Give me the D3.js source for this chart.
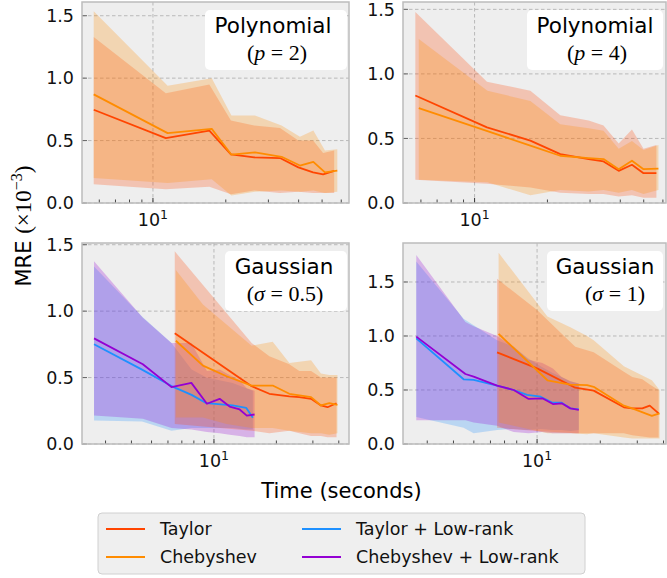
<!DOCTYPE html>
<html><head><meta charset="utf-8">
<script src="https://cdn.jsdelivr.net/npm/d3@7"></script>
<style>body{margin:0;background:#fff}svg{display:block}</style>
</head><body>
<script>
// ---------------- DATA ----------------
const seriesNames = ["Taylor", "Chebyshev", "Taylor + Low-rank", "Chebyshev + Low-rank"];
const seriesColors = ["#FF4500", "#FF8C00", "#1E90FF", "#9400D3"];
const yTicks = [0, 0.5, 1.0, 1.5];
const xMajorTicks = [10];

// Polynomial p=2
const tl_taylor_t  = [5.69, 11.3, 17.1, 21.0, 26.2, 33.5, 39.9, 45.9, 50.5, 56.1];
const tl_taylor_m  = [0.747, 0.52, 0.58, 0.39, 0.365, 0.36, 0.285, 0.245, 0.23, 0.258];
const tl_taylor_lo = [0.15, 0.11, 0.13, 0.07, 0.10, 0.08, 0.09, 0.08, 0.08, 0.08];
const tl_taylor_hi = [1.33, 0.88, 0.95, 0.66, 0.62, 0.60, 0.50, 0.50, 0.40, 0.42];
const tl_cheb_t  = [5.69, 11.5, 17.5, 21.1, 26.4, 34.0, 40.5, 46.0, 51.4, 57.8];
const tl_cheb_m  = [0.87, 0.56, 0.594, 0.387, 0.405, 0.37, 0.30, 0.33, 0.245, 0.26];
const tl_cheb_lo = [0.20, 0.16, 0.19, 0.06, 0.09, 0.10, 0.09, 0.10, 0.08, 0.09];
const tl_cheb_hi = [1.535, 0.94, 1.0, 0.70, 0.70, 0.62, 0.53, 0.58, 0.42, 0.43];

// Polynomial p=4
const tr_taylor_t  = [5.69, 11.25, 17.0, 22.6, 29.6, 34.1, 39.4, 44.7, 49.9, 56.4];
const tr_taylor_m  = [0.833, 0.586, 0.483, 0.379, 0.34, 0.322, 0.249, 0.296, 0.231, 0.231];
const tr_taylor_lo = [0.18, 0.15, 0.12, 0.08, 0.07, 0.07, 0.05, 0.06, 0.04, 0.04];
const tr_taylor_hi = [1.48, 0.94, 0.87, 0.68, 0.64, 0.60, 0.46, 0.57, 0.42, 0.45];
const tr_cheb_t  = [5.88, 11.3, 17.0, 22.6, 29.6, 34.1, 39.4, 44.7, 49.9, 57.5];
const tr_cheb_m  = [0.735, 0.557, 0.444, 0.366, 0.348, 0.34, 0.262, 0.327, 0.262, 0.267];
const tr_cheb_lo = [0.18, 0.16, 0.06, 0.10, 0.09, 0.10, 0.08, 0.10, 0.07, 0.10];
const tr_cheb_hi = [1.27, 0.87, 0.79, 0.61, 0.58, 0.56, 0.42, 0.48, 0.41, 0.45];

// Gaussian sigma=0.5
const bl_taylor_t  = [6.47, 15.2, 18.5, 23.1, 25.8, 29.4, 32.8, 35.3, 39.0];
const bl_taylor_m  = [0.833, 0.435, 0.378, 0.358, 0.353, 0.34, 0.29, 0.277, 0.307];
const bl_taylor_lo = [0.15, 0.10, 0.08, 0.10, 0.08, 0.06, 0.06, 0.05, 0.05];
const bl_taylor_hi = [1.45, 0.76, 0.66, 0.60, 0.55, 0.55, 0.50, 0.50, 0.50];
const bl_cheb_t  = [6.55, 8.85, 11.5, 15.2, 19.2, 23.1, 29.4, 32.8, 36.0, 39.4];
const bl_cheb_m  = [0.777, 0.59, 0.51, 0.44, 0.44, 0.378, 0.353, 0.29, 0.307, 0.295];
const bl_cheb_lo = [0.20, 0.20, 0.15, 0.12, 0.12, 0.10, 0.08, 0.08, 0.07, 0.08];
const bl_cheb_hi = [1.31, 1.05, 0.90, 0.74, 0.77, 0.61, 0.63, 0.53, 0.52, 0.52];
const bl_tlr_t  = [2.64, 4.5, 6.24, 7.8, 9.2, 12.3, 14.3, 15.4];
const bl_tlr_m  = [0.751, 0.56, 0.436, 0.37, 0.307, 0.29, 0.272, 0.197];
const bl_tlr_lo = [0.176, 0.17, 0.10, 0.12, 0.12, 0.12, 0.11, 0.11];
const bl_tlr_hi = [1.336, 0.96, 0.76, 0.56, 0.50, 0.46, 0.42, 0.40];
const bl_clr_t  = [2.64, 4.54, 6.24, 7.78, 9.25, 10.65, 11.9, 13.3, 14.4, 15.7];
const bl_clr_m  = [0.795, 0.60, 0.428, 0.46, 0.303, 0.34, 0.282, 0.26, 0.214, 0.222];
const bl_clr_lo = [0.214, 0.19, 0.12, 0.11, 0.09, 0.08, 0.07, 0.06, 0.05, 0.05];
const bl_clr_hi = [1.375, 0.95, 0.76, 0.76, 0.55, 0.56, 0.52, 0.48, 0.42, 0.40];

// Gaussian sigma=1
const br_taylor_t  = [6.45, 10.0, 15.2, 18.6, 25.9, 28.4, 31.7, 34.4, 37.9];
const br_taylor_m  = [0.849, 0.70, 0.521, 0.494, 0.34, 0.33, 0.33, 0.355, 0.284];
const br_taylor_lo = [0.15, 0.12, 0.10, 0.10, 0.10, 0.08, 0.07, 0.06, 0.06];
const br_taylor_hi = [1.53, 1.24, 0.90, 0.85, 0.67, 0.62, 0.60, 0.55, 0.50];
const br_cheb_t  = [6.56, 11.2, 14.4, 17.3, 18.6, 25.9, 28.4, 35.2, 38.3];
const br_cheb_m  = [1.02, 0.59, 0.55, 0.546, 0.53, 0.355, 0.33, 0.26, 0.284];
const br_cheb_lo = [0.20, 0.10, 0.10, 0.09, 0.10, 0.06, 0.05, 0.05, 0.05];
const br_cheb_hi = [1.77, 1.18, 1.08, 1.0, 0.96, 0.72, 0.68, 0.59, 0.50];
const br_tlr_t  = [2.66, 4.47, 4.99, 6.45, 7.74, 8.96, 10.4, 11.8, 13.1, 14.4, 15.8];
const br_tlr_m  = [0.978, 0.599, 0.593, 0.54, 0.50, 0.454, 0.438, 0.383, 0.383, 0.33, 0.32];
const br_tlr_lo = [0.25, 0.15, 0.10, 0.13, 0.14, 0.13, 0.14, 0.13, 0.13, 0.12, 0.13];
const br_tlr_hi = [1.69, 1.16, 1.10, 0.96, 0.90, 0.80, 0.72, 0.66, 0.62, 0.58, 0.56];
const br_clr_t  = [2.66, 4.56, 4.99, 6.45, 7.74, 9.12, 10.6, 11.9, 13.1, 14.4, 15.8];
const br_clr_m  = [0.994, 0.648, 0.623, 0.54, 0.50, 0.417, 0.423, 0.37, 0.377, 0.33, 0.315];
const br_clr_lo = [0.22, 0.22, 0.20, 0.17, 0.11, 0.10, 0.11, 0.10, 0.10, 0.10, 0.10];
const br_clr_hi = [1.75, 1.13, 1.09, 1.00, 0.90, 0.78, 0.75, 0.70, 0.62, 0.58, 0.56];

const panelTitles = ["Polynomial", "Polynomial", "Gaussian", "Gaussian"];
const panelParams = [["p", "2"], ["p", "4"], ["σ", "0.5"], ["σ", "1"]];
const xLimits = [[5.09, 64.6], [5.06, 61.8], [2.31, 44.8], [2.30, 41.1]];
const yLimits = [[0, 1.61], [0, 1.557], [0, 1.513], [0, 1.861]];

function ser(i, t, m, lo, hi){ return {i, pts: t.map((d,k)=>({t:d, m:m[k], lo:lo[k], hi:hi[k]}))}; }
const panelSeries = [
  [ser(0, tl_taylor_t, tl_taylor_m, tl_taylor_lo, tl_taylor_hi), ser(1, tl_cheb_t, tl_cheb_m, tl_cheb_lo, tl_cheb_hi)],
  [ser(0, tr_taylor_t, tr_taylor_m, tr_taylor_lo, tr_taylor_hi), ser(1, tr_cheb_t, tr_cheb_m, tr_cheb_lo, tr_cheb_hi)],
  [ser(2, bl_tlr_t, bl_tlr_m, bl_tlr_lo, bl_tlr_hi), ser(3, bl_clr_t, bl_clr_m, bl_clr_lo, bl_clr_hi),
   ser(0, bl_taylor_t, bl_taylor_m, bl_taylor_lo, bl_taylor_hi), ser(1, bl_cheb_t, bl_cheb_m, bl_cheb_lo, bl_cheb_hi)],
  [ser(2, br_tlr_t, br_tlr_m, br_tlr_lo, br_tlr_hi), ser(3, br_clr_t, br_clr_m, br_clr_lo, br_clr_hi),
   ser(0, br_taylor_t, br_taylor_m, br_taylor_lo, br_taylor_hi), ser(1, br_cheb_t, br_cheb_m, br_cheb_lo, br_cheb_hi)]
];

// ---------------- LAYOUT ----------------
const W = 667, H = 578;
const boxes = [
  {x: 82, y: 2, w: 267, h: 201},
  {x: 403, y: 2, w: 263, h: 201},
  {x: 82, y: 243, w: 267, h: 201},
  {x: 403, y: 243, w: 263, h: 201}
];
const annot = [
  {bx: 205, bw: 142, tx: 273, sx: 277},
  {bx: 527, bw: 136, tx: 595, sx: 597},
  {bx: 225, bw: 122, tx: 284, sx: 285},
  {bx: 547, bw: 116, tx: 605, sx: 615}
];
const sans = "'DejaVu Sans', sans-serif";
const serif = "'Liberation Serif', 'DejaVu Serif', serif";

const svg = d3.select("body").append("svg").attr("width", W).attr("height", H);
svg.append("rect").attr("width", W).attr("height", H).attr("fill", "#fff");

boxes.forEach((b, pi) => {
  const x = d3.scaleLog().domain(xLimits[pi]).range([0, b.w]);
  const y = d3.scaleLinear().domain(yLimits[pi]).range([b.h, 0]);
  const g = svg.append("g").attr("transform", `translate(${b.x},${b.y})`);
  const cid = "clip" + pi;
  g.append("clipPath").attr("id", cid).append("rect").attr("width", b.w).attr("height", b.h);
  g.append("rect").attr("width", b.w).attr("height", b.h).attr("fill", "#eeeeee");

  // grid
  const grid = g.append("g").attr("stroke", "#b2b2b2").attr("stroke-width", 0.9).attr("stroke-dasharray", "3.5,2.5");
  yTicks.forEach(v => grid.append("line").attr("x1", 0).attr("x2", b.w).attr("y1", y(v)).attr("y2", y(v)));
  xMajorTicks.forEach(v => grid.append("line").attr("x1", x(v)).attr("x2", x(v)).attr("y1", 0).attr("y2", b.h));

  const plot = g.append("g").attr("clip-path", `url(#${cid})`);
  const area = d3.area().x(d => x(d.t)).y0(d => y(d.lo)).y1(d => y(d.hi));
  const line = d3.line().x(d => x(d.t)).y(d => y(d.m));
  panelSeries[pi].forEach(s => {
    plot.append("path").attr("d", area(s.pts)).attr("fill", seriesColors[s.i]).attr("fill-opacity", 0.25);
  });
  panelSeries[pi].forEach(s => {
    plot.append("path").attr("d", line(s.pts)).attr("fill", "none").attr("stroke", seriesColors[s.i])
      .attr("stroke-width", 1.8).attr("stroke-linejoin", "round");
  });

  // minor x ticks (inward)
  const [d0, d1] = xLimits[pi];
  const minors = [];
  for (let e = Math.floor(Math.log10(d0)); e <= Math.ceil(Math.log10(d1)); e++)
    for (let k = 1; k <= 9; k++) { const v = k * Math.pow(10, e); if (v >= d0 && v <= d1) minors.push(v); }
  minors.forEach(v => {
    const major = xMajorTicks.includes(v);
    g.append("line").attr("x1", x(v)).attr("x2", x(v)).attr("y1", b.h).attr("y2", b.h - (major ? 5 : 3.5))
      .attr("stroke", "#333").attr("stroke-width", major ? 1 : 0.9);
  });
  // x major labels
  xMajorTicks.forEach(v => {
    const t = g.append("text").attr("x", x(v)).attr("y", b.h + 22.5).attr("text-anchor", "middle")
      .attr("font-family", sans).attr("font-size", 17.5).attr("fill", "#111");
    t.append("tspan").text("10");
    t.append("tspan").attr("dy", -7).attr("font-size", 12.5).text(String(Math.round(Math.log10(v))));
  });
  // y ticks
  yTicks.forEach(v => {
    g.append("line").attr("x1", 0).attr("x2", 5).attr("y1", y(v)).attr("y2", y(v)).attr("stroke", "#666").attr("stroke-width", 1);
    g.append("text").attr("x", -8).attr("y", y(v)).attr("dy", "0.36em").attr("text-anchor", "end")
      .attr("font-family", sans).attr("font-size", 17.5).attr("fill", "#111").text(d3.format(".1f")(v));
  });

  // spines
  g.append("rect").attr("width", b.w).attr("height", b.h).attr("fill", "none").attr("stroke", "#bcbcbc").attr("stroke-width", 1.5);

  // annotation box
  const a = annot[pi];
  svg.append("rect").attr("x", a.bx).attr("y", b.y + 8).attr("width", a.bw).attr("height", 60).attr("rx", 5)
    .attr("fill", "#fff");
  svg.append("text").attr("x", a.tx).attr("y", b.y + 31).attr("text-anchor", "middle")
    .attr("font-family", sans).attr("font-size", 21.5).attr("fill", "#000").text(panelTitles[pi]);
  const st = svg.append("text").attr("x", a.sx).attr("y", b.y + 58).attr("text-anchor", "middle")
    .attr("font-family", serif).attr("font-size", 22).attr("fill", "#000");
  st.append("tspan").text("(");
  st.append("tspan").attr("font-style", "italic").text(panelParams[pi][0]);
  st.append("tspan").text(" = " + panelParams[pi][1] + ")");
});

// axis labels
const yl = svg.append("text").attr("transform", "translate(31,226) rotate(-90)").attr("text-anchor", "middle")
  .attr("font-family", sans).attr("font-size", 21).attr("fill", "#000");
yl.append("tspan").text("MRE ");
yl.append("tspan").attr("font-family", serif).attr("font-size", 23).text("(×10");
yl.append("tspan").attr("font-family", serif).attr("font-size", 16).attr("dy", -9).text("−3");
yl.append("tspan").attr("font-family", serif).attr("font-size", 23).attr("dy", 9).text(")");

svg.append("text").attr("x", 341.5).attr("y", 498).attr("text-anchor", "middle")
  .attr("font-family", sans).attr("font-size", 21).attr("fill", "#000").text("Time (seconds)");

// legend
const lg = svg.append("g");
lg.append("rect").attr("x", 98).attr("y", 513).attr("width", 487).attr("height", 61).attr("rx", 4)
  .attr("fill", "#efefef").attr("stroke", "#d0d0d0").attr("stroke-width", 1);
const legPos = [{x: 106, y: 529}, {x: 106, y: 557}, {x: 302, y: 529}, {x: 302, y: 557}];
seriesNames.forEach((n, i) => {
  const p = legPos[i];
  lg.append("line").attr("x1", p.x).attr("x2", p.x + 39).attr("y1", p.y).attr("y2", p.y)
    .attr("stroke", seriesColors[i]).attr("stroke-width", 1.8);
  lg.append("text").attr("x", p.x + 54).attr("y", p.y).attr("dy", "0.36em")
    .attr("font-family", sans).attr("font-size", 17.5).attr("fill", "#111").text(n);
});
</script>
</body></html>
